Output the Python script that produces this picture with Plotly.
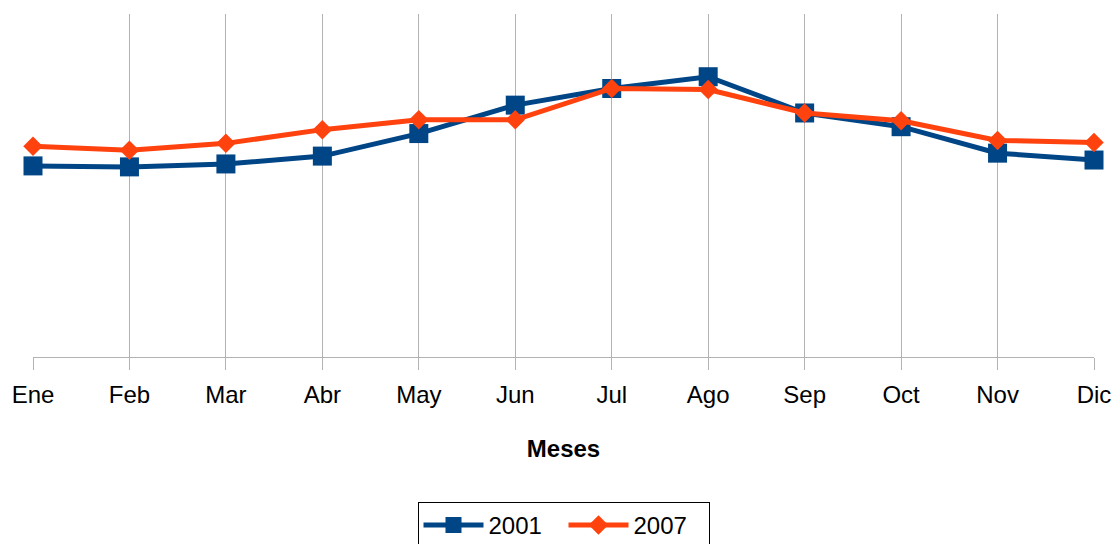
import plotly.graph_objects as go

meses = ["Ene", "Feb", "Mar", "Abr", "May", "Jun", "Jul", "Ago", "Sep", "Oct", "Nov", "Dic"]
serie_2001 = [19.5, 19.4, 19.7, 20.5, 22.8, 25.7, 27.4, 28.6, 24.9, 23.5, 20.8, 20.1]
serie_2007 = [21.5, 21.1, 21.8, 23.2, 24.2, 24.2, 27.4, 27.3, 24.9, 24.1, 22.1, 21.9]

BLUE = "#004586"
ORANGE = "#ff420e"
GRID = "#b3b3b3"
FONT = "Liberation Sans"

fig = go.Figure()
fig.add_trace(go.Scatter(
    x=meses, y=serie_2001, name="2001", mode="lines+markers",
    line=dict(color=BLUE, width=5),
    marker=dict(symbol="square", size=19, color=BLUE),
    cliponaxis=False,
))
fig.add_trace(go.Scatter(
    x=meses, y=serie_2007, name="2007", mode="lines+markers",
    line=dict(color=ORANGE, width=5),
    marker=dict(symbol="diamond", size=15, color=ORANGE),
    cliponaxis=False,
))

fig.update_layout(
    width=1117, height=544,
    margin=dict(l=33, r=23, t=14, b=187, autoexpand=False),
    plot_bgcolor="white", paper_bgcolor="white",
    font=dict(family=FONT, size=24, color="black"),
    showlegend=True,
    legend=dict(
        orientation="h", x=0.5, xanchor="center",
        yref="container", y=1 - 502 / 544, yanchor="top",
        bordercolor="#000000", borderwidth=1, bgcolor="white",
        font=dict(family=FONT, size=24, color="black"),
        traceorder="normal", itemwidth=60, entrywidth=70,
    ),
    xaxis=dict(
        type="category", range=[0, 11], automargin=False,
        showgrid=True, gridcolor=GRID, gridwidth=1,
        showline=True, linecolor=GRID, linewidth=1,
        ticks="outside", ticklen=12, tickcolor=GRID,
        ticklabelstandoff=4,
        tickfont=dict(family=FONT, size=24, color="black"),
        title=dict(text="<b>Meses</b>", font=dict(family=FONT, size=24, color="black"), standoff=33),
        zeroline=False,
    ),
    yaxis=dict(
        range=[0, 35], showgrid=False, showticklabels=False, automargin=False,
        zeroline=False, showline=False, ticks="",
    ),
)

fig.write_html(
    "out.html",
    config={"displayModeBar": False},
    post_script="document.body.style.margin='0';document.body.style.padding='0';",
)
